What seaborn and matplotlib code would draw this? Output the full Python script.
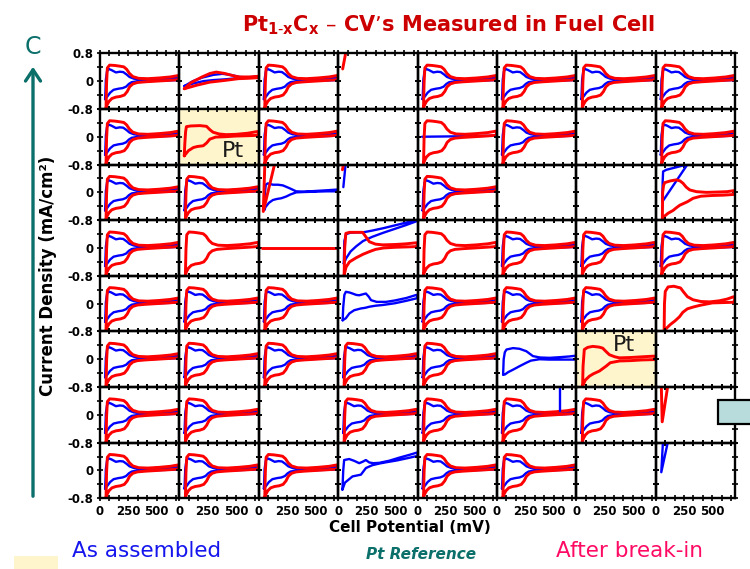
import matplotlib
matplotlib.use("Agg")
import matplotlib.pyplot as plt
from matplotlib.patches import Rectangle, FancyArrowPatch
from matplotlib.ticker import FixedLocator, MultipleLocator
import seaborn as sns

# ---------------- panel axes ----------------
POTENTIAL_LIMITS = (0, 700)          # mV
CURRENT_LIMITS = (-0.8, 0.8)         # mA/cm2
POTENTIAL_TICKS = [0, 250, 500]
CURRENT_TICKS = [-0.8, 0, 0.8]

# ---------------- CV loops: potential (mV), current density (mA/cm2) ----------------
# typical loop, as assembled
BT_X = [45, 48, 52, 62, 75, 100, 140, 175, 205, 235, 260, 300, 350, 420, 500, 600, 690,
        700, 690, 600, 500, 400, 320, 280, 255, 230, 200, 160, 120, 90, 65, 50, 45]
BT_Y = [-0.52, -0.3, 0.05, 0.28, 0.35, 0.32, 0.25, 0.27, 0.26, 0.19, 0.12, 0.07, 0.05, 0.05, 0.05, 0.07, 0.1,
        0.07, 0.03, 0.02, 0.01, 0.0, -0.01, -0.03, -0.08, -0.16, -0.2, -0.22, -0.25, -0.33, -0.44, -0.5, -0.52]
# typical loop, after break-in
RT_X = [53, 55, 58, 65, 85, 130, 175, 210, 235, 260, 290, 340, 420, 520, 620, 690,
        700, 690, 600, 500, 400, 330, 290, 262, 240, 215, 180, 140, 105, 80, 63, 55, 53]
RT_Y = [-0.8, -0.5, -0.05, 0.38, 0.46, 0.45, 0.43, 0.41, 0.34, 0.22, 0.13, 0.08, 0.07, 0.09, 0.12, 0.16,
        0.12, 0.04, 0.02, 0.0, -0.02, -0.04, -0.08, -0.16, -0.3, -0.4, -0.44, -0.46, -0.5, -0.58, -0.68, -0.76, -0.8]

# low-current loops
BLOW_X = [45, 120, 200, 300, 380, 450, 530, 620, 700, 700, 600, 500, 400, 300, 213, 120, 45]
BLOW_Y = [-0.14, 0.0, 0.1, 0.18, 0.21, 0.18, 0.12, 0.1, 0.1, 0.13, 0.11, 0.08, 0.05, 0.03, 0.0, -0.07, -0.14]
RLOW_X = [43, 100, 200, 270, 325, 400, 480, 530, 620, 700, 700, 600, 520, 400, 268, 150, 43]
RLOW_Y = [-0.22, -0.05, 0.12, 0.22, 0.26, 0.22, 0.15, 0.12, 0.12, 0.14, 0.1, 0.08, 0.07, 0.02, -0.03, -0.12, -0.22]

# Pt reference loops
RPT1_X = [43, 48, 55, 62, 100, 181, 239, 270, 297, 350, 412, 500, 600, 690,
          700, 690, 600, 500, 400, 320, 268, 240, 210, 160, 124, 80, 55, 43]
RPT1_Y = [-0.55, -0.2, 0.15, 0.29, 0.31, 0.32, 0.3, 0.2, 0.13, 0.08, 0.06, 0.07, 0.1, 0.15,
          0.12, 0.04, 0.03, 0.02, 0.0, -0.01, -0.07, -0.18, -0.26, -0.28, -0.31, -0.4, -0.5, -0.55]
RPT2_X = [56, 60, 71, 100, 145, 200, 233, 260, 292, 340, 381, 480, 580, 690,
          700, 690, 580, 480, 381, 300, 263, 204, 150, 115, 80, 56]
RPT2_Y = [-0.77, -0.2, 0.28, 0.34, 0.37, 0.35, 0.32, 0.23, 0.13, 0.07, 0.04, 0.05, 0.07, 0.09,
          0.06, -0.01, -0.02, -0.04, -0.05, -0.1, -0.2, -0.34, -0.42, -0.49, -0.6, -0.77]

# individual compositions
B22_X = [50, 55, 62, 80, 125, 170, 213, 271, 330, 400, 500, 600, 690,
         700, 690, 600, 500, 400, 330, 280, 242, 198, 160, 125, 90, 60, 50]
B22_Y = [-0.5, 0.0, 0.22, 0.26, 0.22, 0.22, 0.2, 0.12, 0.03, 0.02, 0.04, 0.06, 0.08,
         0.06, 0.03, 0.03, 0.02, 0.01, 0.0, -0.06, -0.12, -0.17, -0.19, -0.22, -0.3, -0.42, -0.5]
R27_X = [59, 62, 70, 80, 130, 183, 215, 242, 270, 301, 360, 449, 550, 630, 690,
         700, 690, 600, 500, 400, 331, 280, 240, 213, 180, 154, 110, 80, 59]
R27_Y = [-0.83, 0.0, 0.2, 0.28, 0.33, 0.36, 0.33, 0.26, 0.15, 0.07, 0.02, 0.0, 0.01, 0.02, 0.05,
         0.02, -0.06, -0.08, -0.09, -0.11, -0.17, -0.27, -0.33, -0.37, -0.45, -0.52, -0.6, -0.68, -0.83]
B27_X = [290, 59, 62, 66, 95, 180, 272, 300]
B27_Y = [0.85, -0.27, 0.3, 0.6, 0.65, 0.72, 0.8, 0.84]
R33_X = [53, 58, 68, 100, 160, 216, 245, 275, 330, 393, 500, 600, 690,
         700, 690, 600, 500, 400, 330, 280, 220, 160, 100, 70, 53]
R33_Y = [-0.78, 0.0, 0.42, 0.45, 0.45, 0.45, 0.32, 0.18, 0.11, 0.09, 0.1, 0.12, 0.15,
         0.1, 0.04, 0.03, 0.02, 0.0, -0.04, -0.1, -0.18, -0.28, -0.4, -0.55, -0.78]
B33_X = [50, 55, 70, 110, 160, 220, 300, 400, 500, 600, 700,
         700, 600, 500, 400, 300, 220, 160, 110, 70, 50]
B33_Y = [-0.45, 0.2, 0.4, 0.44, 0.45, 0.45, 0.5, 0.57, 0.65, 0.73, 0.82,
         0.78, 0.66, 0.55, 0.44, 0.32, 0.2, 0.05, -0.1, -0.3, -0.45]
B43_X = [40, 45, 55, 68, 100, 127, 160, 186, 220, 245, 270, 290, 340, 422, 500, 600, 690,
         700, 690, 600, 500, 393, 330, 275, 240, 200, 142, 100, 68, 40]
B43_Y = [-0.48, -0.1, 0.25, 0.34, 0.32, 0.29, 0.25, 0.24, 0.27, 0.29, 0.2, 0.1, 0.05, 0.05, 0.09, 0.16, 0.25,
         0.2, 0.15, 0.08, 0.01, -0.04, -0.06, -0.09, -0.12, -0.14, -0.19, -0.28, -0.42, -0.48]
R47_X = [75, 78, 85, 110, 160, 220, 245, 280, 330, 400, 478, 560, 630, 690,
         700, 690, 600, 500, 390, 330, 280, 240, 210, 170, 130, 95, 75]
R47_Y = [-0.8, 0.0, 0.35, 0.48, 0.5, 0.45, 0.34, 0.2, 0.11, 0.06, 0.05, 0.08, 0.13, 0.2,
         0.15, 0.04, 0.03, 0.02, -0.05, -0.1, -0.15, -0.25, -0.38, -0.5, -0.6, -0.71, -0.8]
B55_X = [55, 60, 70, 85, 143, 200, 260, 318, 380, 464, 560, 640, 690,
         700, 690, 560, 460, 376, 300, 260, 200, 143, 100, 70, 55]
B55_Y = [-0.44, 0.0, 0.2, 0.28, 0.32, 0.3, 0.23, 0.09, 0.05, 0.04, 0.06, 0.08, 0.1,
         0.05, -0.01, -0.01, -0.01, 0.0, -0.04, -0.1, -0.2, -0.3, -0.37, -0.44, -0.44]
B73_X = [38, 45, 53, 97, 140, 186, 215, 245, 275, 310, 363, 450, 540, 629, 700,
         700, 620, 520, 430, 363, 300, 245, 201, 127, 60, 38]
B73_Y = [-0.55, 0.0, 0.3, 0.33, 0.28, 0.21, 0.25, 0.3, 0.23, 0.21, 0.22, 0.28, 0.37, 0.45, 0.52,
         0.42, 0.36, 0.29, 0.24, 0.2, 0.15, 0.07, -0.12, -0.17, -0.35, -0.55]

# short / broken traces
RTICK_A_X, RTICK_A_Y = [40, 72], [0.35, 0.9]
BTICK_X, BTICK_Y = [64, 46], [0.75, 0.15]
RTICK_B_X, RTICK_B_Y = [38, 50], [0.65, 0.85]
BFLAT_X, BFLAT_Y = [40, 300, 700], [0.0, 0.01, 0.03]
RFLAT_X, RFLAT_Y = [30, 690], [0.0, 0.0]
RVEE_A_X, RVEE_A_Y = [55, 40, 150], [0.95, -0.55, 0.95]
RVEE_B_X, RVEE_B_Y = [50, 58, 108], [0.85, -0.2, 0.85]
BVEE_X, BVEE_Y = [65, 50, 110], [0.85, -0.05, 0.85]
BVLINE_X, BVLINE_Y = [555, 555], [0.85, 0.12]

BLUE = "#0000ff"
RED = "#ff0000"
TEAL = "#0b6f6a"
CREAM = "#fff5cc"

TRACES = {
    "bt": (BT_X, BT_Y, BLUE), "rt": (RT_X, RT_Y, RED),
    "blow": (BLOW_X, BLOW_Y, BLUE), "rlow": (RLOW_X, RLOW_Y, RED),
    "rpt1": (RPT1_X, RPT1_Y, RED), "rpt2": (RPT2_X, RPT2_Y, RED),
    "b22": (B22_X, B22_Y, BLUE), "r27": (R27_X, R27_Y, RED), "b27": (B27_X, B27_Y, BLUE),
    "r33": (R33_X, R33_Y, RED), "b33": (B33_X, B33_Y, BLUE), "b43": (B43_X, B43_Y, BLUE),
    "r47": (R47_X, R47_Y, RED), "b55": (B55_X, B55_Y, BLUE), "b73": (B73_X, B73_Y, BLUE),
    "rticka": (RTICK_A_X, RTICK_A_Y, RED), "btick": (BTICK_X, BTICK_Y, BLUE),
    "rtickb": (RTICK_B_X, RTICK_B_Y, RED), "bflat": (BFLAT_X, BFLAT_Y, BLUE),
    "rflat": (RFLAT_X, RFLAT_Y, RED), "rveea": (RVEE_A_X, RVEE_A_Y, RED),
    "rveeb": (RVEE_B_X, RVEE_B_Y, RED), "bvee": (BVEE_X, BVEE_Y, BLUE),
    "bvline": (BVLINE_X, BVLINE_Y, BLUE),
}

T = ["bt", "rt"]
LIBRARY = [
    [T, ["blow", "rlow"], T, ["rticka"], T, T, T, T],
    [T, ["rpt1"], T, [], ["bflat", "rt"], T, [], T],
    [T, T, ["b22", "rveea"], ["btick", "rtickb"], T, [], [], ["b27", "r27"]],
    [T, ["rt"], ["rflat"], ["b33", "r33"], ["rt"], T, T, T],
    [T, T, T, ["b43"], T, T, T, ["r47"]],
    [T, T, T, T, T, ["b55"], ["rpt2"], []],
    [T, T, [], T, T, ["bt", "rt", "bvline"], T, ["rveeb"]],
    [T, T, T, ["b73"], T, T, [], ["bvee"]],
]
PT_CELLS = {(1, 1): (476, -0.42), (5, 6): (423, 0.40)}

# ---------------- figure ----------------
sns.set_theme(style="white")
plt.rcParams["font.family"] = ["DejaVu Sans"]
plt.rcParams["mathtext.default"] = "regular"
plt.rcParams["text.color"] = "black"
plt.rcParams["xtick.color"] = "black"
plt.rcParams["ytick.color"] = "black"

W, H = 750, 569
fig = plt.figure(figsize=(W / 100, H / 100), dpi=100)
fig.patch.set_facecolor("white")


def fx(px):
    return px / W


def fy(py):
    return 1 - py / H


GL, GR, GT, GB = 100, 735, 53.3, 498.3
cw = (GR - GL) / 8
ch = (GB - GT) / 8

for r, row in enumerate(LIBRARY):
    for c, keys in enumerate(row):
        ax = fig.add_axes([fx(GL + c * cw), fy(GT + (r + 1) * ch), cw / W, ch / H])
        if (r, c) in PT_CELLS:
            ax.set_facecolor(CREAM)
        else:
            ax.set_facecolor("none")
        for k in keys:
            xs, ys, col = TRACES[k]
            sns.lineplot(x=xs, y=ys, sort=False, estimator=None, color=col,
                         linewidth=1.7 if col == BLUE else 2.1, ax=ax)
        if (r, c) in PT_CELLS:
            px, py = PT_CELLS[(r, c)]
            ax.text(px, py, "Pt", fontsize=16, color="#1a1a1a", ha="center", va="center")
        ax.set_xlim(*POTENTIAL_LIMITS)
        ax.set_ylim(*CURRENT_LIMITS)
        ax.xaxis.set_major_locator(FixedLocator(POTENTIAL_TICKS))
        ax.xaxis.set_minor_locator(MultipleLocator(250 / 3))
        ax.yaxis.set_major_locator(FixedLocator(CURRENT_TICKS))
        ax.yaxis.set_minor_locator(MultipleLocator(0.4))
        ax.set_xticklabels([str(v) for v in POTENTIAL_TICKS])
        ax.set_yticklabels(["-0.8", "0", "0.8" if r == 0 else ""])
        ax.tick_params(which="both", direction="inout", top=True, bottom=True,
                       left=True, right=True, length=5, width=1.2, color="black",
                       labelsize=8.5, pad=2, labelcolor="black",
                       labelbottom=(r == 7), labelleft=(c == 0))
        for lbl in ax.get_xticklabels() + ax.get_yticklabels():
            lbl.set_fontweight("bold")
        for s in ax.spines.values():
            s.set_visible(True)
            s.set_linewidth(1.7)
            s.set_color("black")
        ax.set_xlabel("")
        ax.set_ylabel("")

# ---------------- labels and decorations ----------------
fig.text(fx(449), fy(31), r"Pt$_{1\text{-}x}$C$_{x}$ – CV’s Measured in Fuel Cell",
         color="#cc0000", fontsize=15, fontweight="bold", ha="center", va="baseline")
fig.text(fx(410), fy(532), "Cell Potential (mV)", fontsize=11, fontweight="bold",
         ha="center", va="baseline")
fig.text(fx(48), fy(275.5), "Current Density (mA/cm²)", fontsize=12, fontweight="bold",
         rotation=90, ha="center", va="center")
fig.text(fx(147), fy(557), "As assembled", color="#1515ee", fontsize=15.5,
         ha="center", va="baseline")
fig.text(fx(421), fy(559), "Pt Reference", color=TEAL, fontsize=11, fontweight="bold",
         fontstyle="italic", ha="center", va="baseline")
fig.text(fx(630), fy(557), "After break-in", color="#ff0a64", fontsize=15.5,
         ha="center", va="baseline")

fig.text(fx(33), fy(47), "C", color=TEAL, fontsize=17, ha="center", va="center")
fig.add_artist(FancyArrowPatch((fx(33), fy(499)), (fx(33), fy(64)),
                               transform=fig.transFigure,
                               arrowstyle="->,head_length=0.45,head_width=0.3",
                               mutation_scale=18, lw=2.4, color=TEAL))

fig.add_artist(Rectangle((fx(14), fy(569)), 44 / W, 13 / H, transform=fig.transFigure,
                         facecolor=CREAM, lw=0))
fig.add_artist(Rectangle((fx(718), fy(424)), 40 / W, 24 / H, transform=fig.transFigure,
                         facecolor="#b8dcdc", edgecolor="black", lw=1.6))

fig.savefig("out.png", dpi=100)
